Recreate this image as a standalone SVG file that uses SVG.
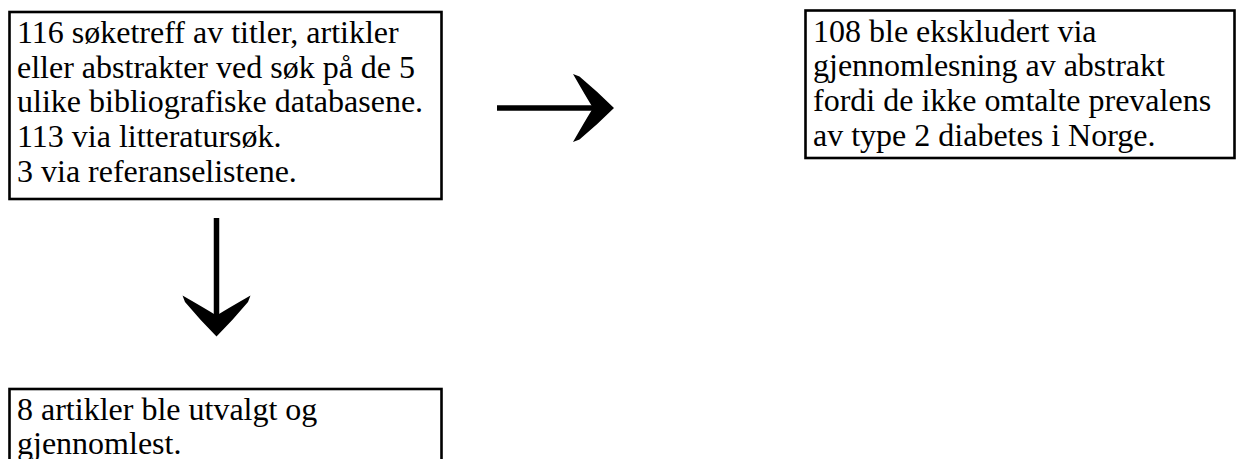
<svg xmlns="http://www.w3.org/2000/svg" width="1236" height="459" viewBox="0 0 1236 459">
  <style>
    .box { fill: #ffffff; stroke: #000000; stroke-width: 2.6; }
    .label { font-family: "Liberation Serif", "Times New Roman", serif; font-size: 32px; fill: #000000; }
    .shaft { stroke: #000000; stroke-width: 5.5; fill: none; }
    .head { fill: #000000; stroke: none; }
  </style>
  <rect x="0" y="0" width="1236" height="459" fill="#ffffff"/>

  <g id="node-search">
    <rect class="box" x="9.5" y="12" width="432" height="187"/>
    <text class="label" x="17" y="43">
      <tspan x="17">116 søketreff av titler, artikler</tspan>
      <tspan x="17" dy="34.7">eller abstrakter ved søk på de 5</tspan>
      <tspan x="17" dy="34.7">ulike bibliografiske databasene.</tspan>
      <tspan x="17" dy="34.7">113 via litteratursøk.</tspan>
      <tspan x="17" dy="34.7">3 via referanselistene.</tspan>
    </text>
  </g>

  <g id="node-excluded">
    <rect class="box" x="805.5" y="10.5" width="429" height="147.5"/>
    <text class="label" x="813" y="41.5">
      <tspan x="813">108 ble ekskludert via</tspan>
      <tspan x="813" dy="34.7">gjennomlesning av abstrakt</tspan>
      <tspan x="813" dy="34.7">fordi de ikke omtalte prevalens</tspan>
      <tspan x="813" dy="34.7">av type 2 diabetes i Norge.</tspan>
    </text>
  </g>

  <g id="node-selected">
    <rect class="box" x="9.5" y="389" width="432" height="90"/>
    <text class="label" x="17" y="419.5">
      <tspan x="17">8 artikler ble utvalgt og</tspan>
      <tspan x="17" dy="34.7">gjennomlest.</tspan>
    </text>
  </g>

  <g id="connectors">
    <!-- search -> excluded -->
    <line class="shaft" x1="497" y1="108" x2="600" y2="108"/>
    <path class="head" d="M 614 108 Q 598 92 579.5 76.5 L 573 74 Q 585 95 593 108 Q 585 121 573 142 L 579.5 139.5 Q 598 124 614 108 Z"/>
    <!-- search -> selected -->
    <line class="shaft" x1="216.5" y1="218" x2="216.5" y2="322"/>
    <path class="head" d="M 216.5 336.5 Q 200.5 320.5 185 302 L 182.5 295.5 Q 203.5 307.5 216.5 315.5 Q 229.5 307.5 250.5 295.5 L 248 302 Q 232.5 320.5 216.5 336.5 Z"/>
  </g>
</svg>
